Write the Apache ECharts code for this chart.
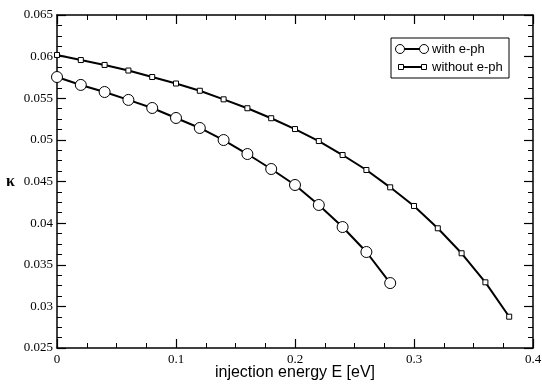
<!DOCTYPE html>
<html>
<head>
<meta charset="utf-8">
<script src="https://cdn.jsdelivr.net/npm/echarts@6/dist/echarts.min.js"></script>
<style>html,body{margin:0;padding:0;background:#fff}#c{width:542px;height:385px}</style>
</head>
<body>
<div id="c"></div>
<script>
var energyWith = [0, 0.02, 0.04, 0.06, 0.08, 0.10, 0.12, 0.14, 0.16, 0.18, 0.20, 0.22, 0.24, 0.26, 0.28];
var kappaWith = [0.05755, 0.0566, 0.05575, 0.0548, 0.05383, 0.05263, 0.05143, 0.04998, 0.0483, 0.0465, 0.04458, 0.04218, 0.03953, 0.03653, 0.0328];
var energyWithout = [0, 0.02, 0.04, 0.06, 0.08, 0.10, 0.12, 0.14, 0.16, 0.18, 0.20, 0.22, 0.24, 0.26, 0.28, 0.30, 0.32, 0.34, 0.36, 0.38];
var kappaWithout = [0.0602, 0.05959, 0.0590, 0.05833, 0.05755, 0.05677, 0.0559, 0.05487, 0.0538, 0.0526, 0.0513, 0.04986, 0.04818, 0.04638, 0.0443, 0.04206, 0.03938, 0.03638, 0.03289, 0.02876];
var seriesNames = ['with e-ph', 'without e-ph'];
var xTitle = 'injection energy E [eV]';
var yTitle = 'κ';

function pairs(xs, ys) { return xs.map(function (x, i) { return [x, ys[i]]; }); }

var chart = echarts.init(document.getElementById('c'));
var serif = 'Liberation Serif';
var sans = 'Liberation Sans';
function ax(extra) {
  return Object.assign({
    axisLine: { show: true, onZero: false, lineStyle: { color: '#000', width: 1.5 } },
    axisTick: { show: true, inside: true, length: 9, lineStyle: { color: '#000', width: 1.2 } },
    minorTick: { show: true, splitNumber: 4, length: 5, lineStyle: { color: '#000', width: 1 } },
    splitLine: { show: false }
  }, extra);
}

chart.setOption({
  animation: false,
  backgroundColor: '#fff',
  grid: { left: 57, right: 9, top: 15, bottom: 37, outerBoundsMode: 'none', containLabel: false },
  xAxis: [
    ax({ type: 'value', min: 0, max: 0.4, interval: 0.1, position: 'bottom',
      name: xTitle, nameLocation: 'middle', nameGap: 17, nameMoveOverlap: false,
      nameTextStyle: { fontFamily: sans, fontSize: 16, color: '#000' },
      axisLabel: { fontFamily: serif, fontSize: 13, color: '#000', margin: 5 } }),
    ax({ type: 'value', min: 0, max: 0.4, interval: 0.1, position: 'top', axisLabel: { show: false } })
  ],
  yAxis: [
    ax({ type: 'value', min: 0.025, max: 0.065, interval: 0.005, position: 'left',
      name: yTitle, nameLocation: 'middle', nameGap: 42, nameRotate: 0, nameMoveOverlap: false,
      nameTextStyle: { fontFamily: serif, fontSize: 16, color: '#000', fontWeight: 'bold' },
      axisLabel: { fontFamily: serif, fontSize: 13, color: '#000', margin: 4 } }),
    ax({ type: 'value', min: 0.025, max: 0.065, interval: 0.005, position: 'right', axisLabel: { show: false } })
  ],
  series: [
    { name: seriesNames[0], type: 'line', data: pairs(energyWith, kappaWith),
      symbol: 'circle', symbolSize: 11, showAllSymbol: true,
      lineStyle: { color: '#000', width: 2 },
      itemStyle: { color: '#fff', borderColor: '#000', borderWidth: 1 } },
    { name: seriesNames[1], type: 'line', data: pairs(energyWithout, kappaWithout),
      symbol: 'rect', symbolSize: 5, showAllSymbol: true,
      lineStyle: { color: '#000', width: 2 },
      itemStyle: { color: '#fff', borderColor: '#000', borderWidth: 1 } }
  ],
  graphic: [
    { type: 'rect', shape: { x: 391, y: 38, width: 118, height: 40 }, style: { fill: '#fff', stroke: '#000', lineWidth: 1 }, z: 10 },
    { type: 'line', shape: { x1: 400, y1: 49, x2: 424, y2: 49 }, style: { stroke: '#000', lineWidth: 2 }, z: 11 },
    { type: 'circle', shape: { cx: 400, cy: 49, r: 4.5 }, style: { fill: '#fff', stroke: '#000', lineWidth: 1 }, z: 12 },
    { type: 'circle', shape: { cx: 424, cy: 49, r: 4.5 }, style: { fill: '#fff', stroke: '#000', lineWidth: 1 }, z: 12 },
    { type: 'text', x: 432, y: 49, style: { text: seriesNames[0], font: '13px "Liberation Sans"', fill: '#000', textVerticalAlign: 'middle' }, z: 12 },
    { type: 'line', shape: { x1: 401, y1: 67, x2: 424, y2: 67 }, style: { stroke: '#000', lineWidth: 2 }, z: 11 },
    { type: 'rect', shape: { x: 398.5, y: 64.5, width: 5, height: 5 }, style: { fill: '#fff', stroke: '#000', lineWidth: 1 }, z: 12 },
    { type: 'rect', shape: { x: 421.5, y: 64.5, width: 5, height: 5 }, style: { fill: '#fff', stroke: '#000', lineWidth: 1 }, z: 12 },
    { type: 'text', x: 432, y: 67, style: { text: seriesNames[1], font: '13px "Liberation Sans"', fill: '#000', textVerticalAlign: 'middle' }, z: 12 }
  ]
});
</script>
</body>
</html>
